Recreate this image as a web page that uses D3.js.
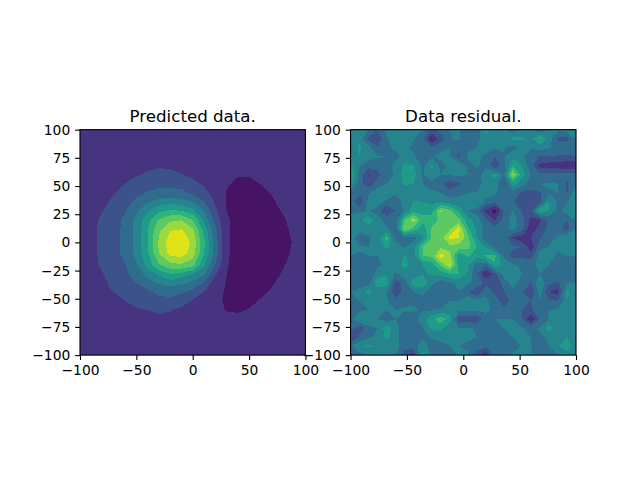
<!DOCTYPE html>
<html>
<head>
<meta charset="utf-8">
<script src="https://cdn.jsdelivr.net/npm/d3@7"></script>
<style>
    html, body { margin: 0; padding: 0; background: #fff; }
    svg { display: block; }
</style>
</head>
<body>
<div id="chart-area"></div>
<script>
const xTickLabels = [-100, -50, 0, 50, 100]
const yTickLabels = [-100, -75, -50, -25, 0, 25, 50, 75, 100]
const titles = ["Predicted data.", "Data residual."]
const levels = [0, 1, 2, 3, 4, 5, 6, 7, 8, 9]

// top row first, 10 units apart
const predicted = [
    [1.5,1.5,1.5,1.5,1.5,1.5,1.5,1.5,1.5,1.5,1.5,1.5,1.5,1.5,1.5,1.5,1.5,1.5,1.5,1.5,1.5],
    [1.5,1.5,1.5,1.5,1.5,1.5,1.5,1.5,1.5,1.5,1.5,1.5,1.5,1.5,1.5,1.5,1.5,1.5,1.5,1.5,1.5],
    [1.5,1.5,1.5,1.5,1.5,1.5,1.55,1.55,1.55,1.5,1.5,1.45,1.45,1.4,1.4,1.4,1.4,1.45,1.45,1.5,1.5],
    [1.4,1.4,1.5,1.5,1.6,1.7,1.8,1.85,1.85,1.7,1.5,1.4,1.3,1.25,1.2,1.2,1.25,1.3,1.35,1.4,1.4],
    [1.4,1.45,1.55,1.65,1.8,1.95,2.1,2.2,2.15,2.03,1.8,1.55,1.3,1.12,1.02,1.02,1.1,1.2,1.3,1.35,1.4],
    [1.45,1.6,1.75,1.88,2.05,2.35,2.6,2.8,2.85,2.7,2.4,1.97,1.45,1.02,0.9,0.9,0.98,1.1,1.25,1.33,1.4],
    [1.5,1.68,1.85,2.03,2.5,3.0,3.4,3.8,3.95,3.7,3.2,2.6,1.75,0.97,0.8,0.78,0.85,0.98,1.15,1.3,1.4],
    [1.55,1.72,1.93,2.4,2.85,3.7,4.6,5.4,5.8,5.5,5.0,3.7,2.1,0.98,0.72,0.68,0.72,0.85,1.08,1.25,1.38],
    [1.6,1.78,2.15,2.62,3.2,4.25,5.65,7.1,7.8,7.95,7.0,4.8,2.65,1.1,0.75,0.62,0.62,0.72,0.93,1.2,1.35],
    [1.65,1.8,2.2,2.67,3.25,4.35,6.0,7.85,9.0,9.2,8.3,5.75,3.25,1.1,0.72,0.58,0.56,0.65,0.85,1.12,1.33],
    [1.65,1.8,2.2,2.67,3.27,4.33,6.0,8.15,9.55,9.95,8.75,6.25,3.5,1.1,0.72,0.58,0.55,0.62,0.82,1.05,1.3],
    [1.65,1.8,2.2,2.67,3.27,4.3,5.85,8.0,9.3,9.5,8.5,6.0,3.5,1.1,0.75,0.6,0.58,0.65,0.85,1.1,1.33],
    [1.6,1.75,2.13,2.55,2.95,3.9,5.4,6.85,7.7,7.85,7.35,5.2,3.0,1.05,0.78,0.63,0.62,0.72,0.95,1.2,1.35],
    [1.55,1.72,1.93,2.33,2.75,3.35,4.2,4.95,5.6,5.2,4.55,3.85,2.0,1.0,0.78,0.68,0.72,0.84,1.08,1.25,1.38],
    [1.5,1.65,1.85,2.1,2.45,2.75,3.1,3.55,3.85,3.6,3.2,2.25,1.4,0.93,0.82,0.8,0.88,1.0,1.18,1.3,1.4],
    [1.45,1.55,1.7,1.85,2.05,2.3,2.55,2.8,2.85,2.55,2.05,1.65,1.2,0.88,0.85,0.88,1.0,1.12,1.25,1.33,1.4],
    [1.4,1.45,1.55,1.65,1.78,1.92,2.0,2.15,2.05,1.8,1.55,1.3,1.1,0.98,0.95,1.02,1.1,1.22,1.3,1.37,1.42],
    [1.4,1.4,1.45,1.5,1.55,1.6,1.7,1.75,1.7,1.6,1.45,1.3,1.2,1.15,1.15,1.2,1.25,1.3,1.35,1.4,1.42],
    [1.5,1.5,1.5,1.5,1.5,1.5,1.55,1.55,1.55,1.5,1.5,1.45,1.45,1.4,1.4,1.4,1.4,1.45,1.45,1.5,1.5],
    [1.5,1.5,1.5,1.5,1.5,1.5,1.5,1.5,1.5,1.5,1.5,1.5,1.5,1.5,1.5,1.5,1.5,1.5,1.5,1.5,1.5],
    [1.5,1.5,1.5,1.5,1.5,1.5,1.5,1.5,1.5,1.5,1.5,1.5,1.5,1.5,1.5,1.5,1.5,1.5,1.5,1.5,1.5]
]

// same thing, 8 units apart
const residual = [
    [4.3,4.4,4.0,3.2,4.2,4.2,4.2,4.3,4.0,2.8,3.5,4.0,4.2,3.2,3.2,5.2,4.6,4.2,3.3,4.2,4.0,3.0,4.2,4.2,4.4,5.2],
    [4.2,4.7,2.7,2.0,3.9,4.4,4.4,4.1,3.3,0.9,2.5,3.9,4.2,3.0,3.6,4.9,4.6,4.1,5.2,5.2,4.8,6.2,4.6,2.8,2.6,4.2],
    [4.3,5.2,4.4,3.2,3.9,4.1,4.2,3.8,3.2,3.0,3.8,4.0,3.2,3.9,4.0,4.2,4.1,4.1,3.6,4.2,4.1,4.4,4.1,3.6,3.7,4.0],
    [4.2,5.0,4.4,4.1,4.0,3.8,4.2,4.2,3.4,3.9,4.2,4.1,2.7,4.1,4.1,3.9,3.0,3.9,4.8,4.2,3.4,2.9,2.9,2.9,2.8,2.9],
    [5.3,4.1,3.4,3.5,3.8,4.2,5.2,5.1,3.7,5.3,3.7,4.2,5.1,3.8,4.1,3.8,2.2,3.6,6.0,5.0,3.4,1.7,1.5,1.4,1.1,1.3],
    [6.2,3.6,1.9,2.6,3.7,4.1,5.6,5.4,3.9,4.4,4.0,4.1,4.2,4.0,3.5,4.6,5.4,3.8,8.3,5.5,3.9,3.3,3.3,3.4,3.6,3.4],
    [5.4,3.5,2.3,3.6,4.0,4.2,5.2,5.0,4.0,3.8,3.2,2.4,2.9,3.3,3.0,4.8,4.6,2.7,5.4,4.4,3.6,4.0,4.1,4.0,2.8,3.9],
    [3.5,3.3,3.9,4.4,5.2,4.2,4.1,4.1,4.2,4.1,4.0,3.3,3.8,4.0,4.1,4.4,4.2,3.5,3.5,2.8,2.7,2.9,3.9,4.0,2.9,4.6],
    [3.5,2.3,4.3,4.9,3.5,3.4,4.3,5.1,5.0,4.8,4.8,4.5,4.3,4.4,5.0,3.8,3.2,3.7,3.1,2.4,2.4,2.6,5.0,3.9,3.8,5.2],
    [3.6,3.8,4.1,3.4,2.2,3.1,4.2,5.6,5.7,5.6,8.2,7.3,5.8,4.0,3.6,1.6,0.5,3.0,4.1,2.9,2.7,6.1,5.0,3.7,4.5,5.0],
    [4.5,4.8,5.5,4.6,3.5,3.2,7.0,8.6,6.3,6.6,7.2,7.4,7.3,5.4,4.6,3.2,1.9,3.4,4.4,3.5,1.7,1.8,3.3,3.3,3.0,4.2],
    [4.8,4.3,4.6,4.2,4.1,3.6,8.0,6.6,5.4,7.1,7.6,7.8,9.4,6.2,4.8,3.7,3.5,3.8,4.2,3.5,1.3,2.5,3.2,3.3,2.6,4.0],
    [4.3,3.6,3.8,4.4,6.6,3.8,3.4,3.6,4.8,7.1,7.5,9.3,9.0,7.4,5.0,3.3,3.5,3.8,1.9,1.4,2.0,2.9,3.5,4.2,5.0,5.0],
    [4.0,4.1,4.0,4.3,5.3,4.4,3.9,4.8,7.0,7.3,7.8,7.6,7.6,7.3,6.0,4.9,3.6,3.2,3.2,3.0,1.3,3.6,4.1,4.1,4.1,4.2],
    [4.0,3.9,4.0,4.0,4.1,4.3,5.1,4.5,7.0,7.2,9.5,8.4,5.2,6.2,5.4,6.2,6.2,3.8,2.6,2.7,2.5,4.6,4.2,3.9,4.0,4.1],
    [3.6,3.2,3.4,3.9,4.1,4.6,5.3,4.5,5.0,5.4,7.2,9.1,5.6,5.2,3.6,3.2,5.9,4.6,4.1,3.9,3.9,4.1,4.0,3.9,3.7,3.0],
    [3.4,3.2,3.3,4.4,4.9,3.8,4.6,4.4,4.9,5.1,5.4,6.0,6.0,4.9,3.0,1.1,2.6,4.4,4.4,4.0,3.9,4.0,3.9,3.9,3.9,3.0],
    [3.4,3.3,3.6,5.8,5.6,2.4,3.5,5.6,6.0,4.2,3.4,3.8,4.4,4.2,3.7,2.7,2.0,3.5,4.3,3.7,2.9,5.1,3.2,2.8,3.9,4.1],
    [4.0,4.5,5.3,4.2,4.1,2.3,3.4,4.0,4.2,3.6,3.0,3.1,3.9,3.2,2.0,3.8,2.8,2.9,3.9,3.2,2.0,4.4,2.0,1.6,5.4,4.1],
    [3.6,4.0,4.4,4.1,4.1,3.3,3.8,3.9,3.6,3.2,3.1,4.0,4.0,5.0,4.4,4.2,3.6,2.4,3.4,3.7,3.0,4.0,3.2,3.0,5.0,4.1],
    [3.6,3.8,4.0,4.0,4.0,4.0,4.1,4.1,3.9,3.9,4.2,4.5,4.2,4.2,4.2,4.1,3.9,3.4,3.9,3.0,2.8,3.8,4.0,4.1,4.1,4.2],
    [3.7,5.1,5.0,4.0,3.3,4.0,3.5,3.6,4.6,5.8,6.6,5.6,2.3,2.5,2.2,3.8,4.0,4.0,4.0,3.0,1.1,3.0,4.1,4.1,4.1,4.2],
    [3.6,2.4,3.6,4.0,5.6,4.4,3.4,3.1,3.9,5.2,5.4,4.2,4.0,4.1,3.9,4.0,3.6,4.0,4.1,4.1,3.7,4.1,5.5,4.4,4.1,4.1],
    [1.8,3.2,3.9,4.1,5.3,4.4,3.4,3.3,3.8,4.1,4.2,4.1,4.1,4.1,4.0,3.4,3.2,3.9,4.0,4.1,4.0,3.9,4.1,4.6,5.0,4.2],
    [3.8,5.0,5.1,5.0,4.5,4.3,3.6,3.5,4.8,3.4,3.8,4.0,4.0,3.9,3.9,3.2,3.8,3.0,3.4,4.1,4.0,3.1,4.0,4.8,5.9,4.3],
    [3.4,3.6,4.2,4.2,4.1,4.0,2.2,1.5,5.3,3.6,3.7,3.9,4.0,4.1,2.4,1.4,3.5,3.9,4.2,5.0,4.1,3.7,3.8,3.9,4.4,4.2]
]

const font = "'DejaVu Sans', sans-serif"
const size = 225.45
const topEdge = 129.67

const svg = d3.select("#chart-area").append("svg")
    .attr("width", 640)
    .attr("height", 480)

const yScale = d3.scaleLinear().domain([-100, 100]).range([topEdge + size, topEdge])
const color = (k) => d3.interpolateViridis((k + 0.5) / levels.length)

function drawPanel(grid, left, title, id) {
    const xScale = d3.scaleLinear().domain([-100, 100]).range([left, left + size])
    const rows = grid.length
    const cols = grid[0].length
    const step = 200 / (cols - 1)

    const g = svg.append("g")

    g.append("clipPath").attr("id", id)
        .append("rect")
        .attr("x", left)
        .attr("y", topEdge)
        .attr("width", size)
        .attr("height", size)

    const contours = d3.contours()
        .size([cols, rows])
        .thresholds(levels)(grid.flat())

    // d3 puts grid value i at i + 0.5
    const path = d3.geoPath(d3.geoTransform({
        point: function (x, y) {
            this.stream.point(
                xScale(-100 + (x - 0.5) * step),
                yScale(100 - (y - 0.5) * step)
            )
        }
    }))

    g.append("g")
        .attr("clip-path", "url(#" + id + ")")
        .selectAll("path")
        .data(contours)
        .enter()
        .append("path")
            .attr("d", path)
            .attr("fill", (d, i) => color(i))
            .attr("shape-rendering", "crispEdges")

    const xAxis = d3.axisBottom(xScale)
        .tickValues(xTickLabels)
        .tickSize(4.86)
        .tickSizeOuter(0)
        .tickPadding(4.86)
    const yAxis = d3.axisLeft(yScale)
        .tickValues(yTickLabels)
        .tickSize(4.86)
        .tickSizeOuter(0)
        .tickPadding(4.86)

    g.append("g")
        .attr("transform", "translate(0," + (topEdge + size) + ")")
        .call(xAxis)
    g.append("g")
        .attr("transform", "translate(" + left + ",0)")
        .call(yAxis)

    g.selectAll(".tick text")
        .attr("font-family", font)
        .attr("font-size", 13.89)
        .attr("fill", "#000")
    g.selectAll(".tick line")
        .attr("stroke", "#000")
        .attr("stroke-width", 1.11)
    g.selectAll(".domain").remove()

    g.append("rect")
        .attr("x", left)
        .attr("y", topEdge)
        .attr("width", size)
        .attr("height", size)
        .attr("fill", "none")
        .attr("stroke", "#000")
        .attr("stroke-width", 1.11)

    g.append("text")
        .attr("x", left + size / 2)
        .attr("y", topEdge - 8)
        .attr("text-anchor", "middle")
        .attr("font-family", font)
        .attr("font-size", 16.67)
        .attr("fill", "#000")
        .text(title)
}

drawPanel(predicted, 80, titles[0], "clip-left")
drawPanel(residual, 350.55, titles[1], "clip-right")
</script>
</body>
</html>
